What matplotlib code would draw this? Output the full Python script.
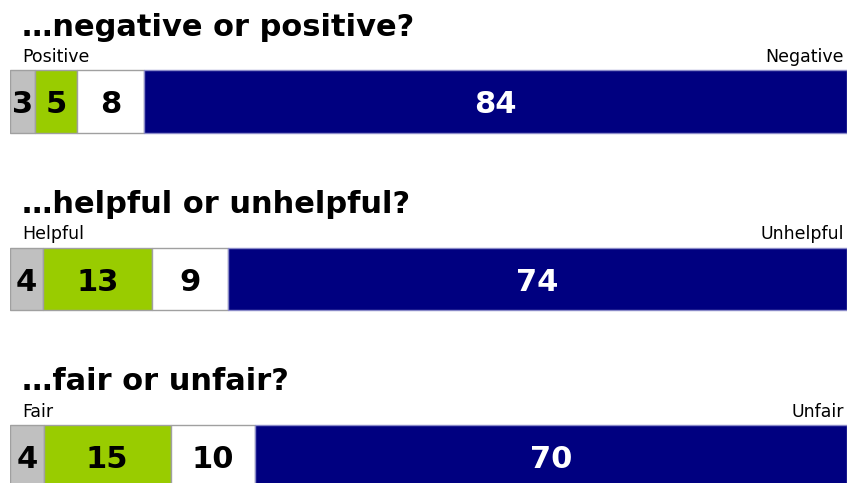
import matplotlib
matplotlib.use("Agg")
import matplotlib.pyplot as plt

questions = ["\u2026negative or positive?", "\u2026helpful or unhelpful?", "\u2026fair or unfair?"]
left_labels = ["Positive", "Helpful", "Fair"]
right_labels = ["Negative", "Unhelpful", "Unfair"]
seg_grey = [3, 4, 4]
seg_green = [5, 13, 15]
seg_white = [8, 9, 10]
seg_navy = [84, 74, 70]

colors = ["#c0c0c0", "#99cc00", "#ffffff", "#000080"]
edges = ["#a0a0a0", "#a0a0a0", "#a0a0a0", "#8a8ac8"]
txt_colors = ["black", "black", "black", "white"]

W, H = 847, 483
fig = plt.figure(figsize=(W / 100, H / 100), dpi=100)
ax = fig.add_axes([10 / W, 0, 1 - 10 / W, 1])
ax.set_xlim(0, 100)
ax.set_ylim(2.152, -0.573)
ax.axis("off")

series = [seg_grey, seg_green, seg_white, seg_navy]
ypos = list(range(len(questions)))
totals = [sum(col) for col in zip(*series)]
lefts = [0.0] * len(questions)
for s, vals in enumerate(series):
    widths = [v / t * 100 for v, t in zip(vals, totals)]
    ax.barh(ypos, widths, left=lefts, height=0.353, color=colors[s],
            edgecolor=edges[s], linewidth=1.0)
    for i, v in enumerate(vals):
        ax.text(lefts[i] + widths[i] / 2, ypos[i] + 0.018, str(v), ha="center", va="center",
                fontsize=22, fontweight="bold", color=txt_colors[s],
                family="DejaVu Sans")
    lefts = [l + w for l, w in zip(lefts, widths)]

for i, q in enumerate(questions):
    ax.text(1.43, i - 0.372, q, ha="left", va="baseline", fontsize=22,
            fontweight="bold", color="black", family="DejaVu Sans")
    ax.text(1.43, i - 0.222, left_labels[i], ha="left", va="baseline",
            fontsize=12.5, color="black", family="DejaVu Sans")
    ax.text(99.6, i - 0.222, right_labels[i], ha="right", va="baseline",
            fontsize=12.5, color="black", family="DejaVu Sans")

fig.savefig("out.png", dpi=100)
